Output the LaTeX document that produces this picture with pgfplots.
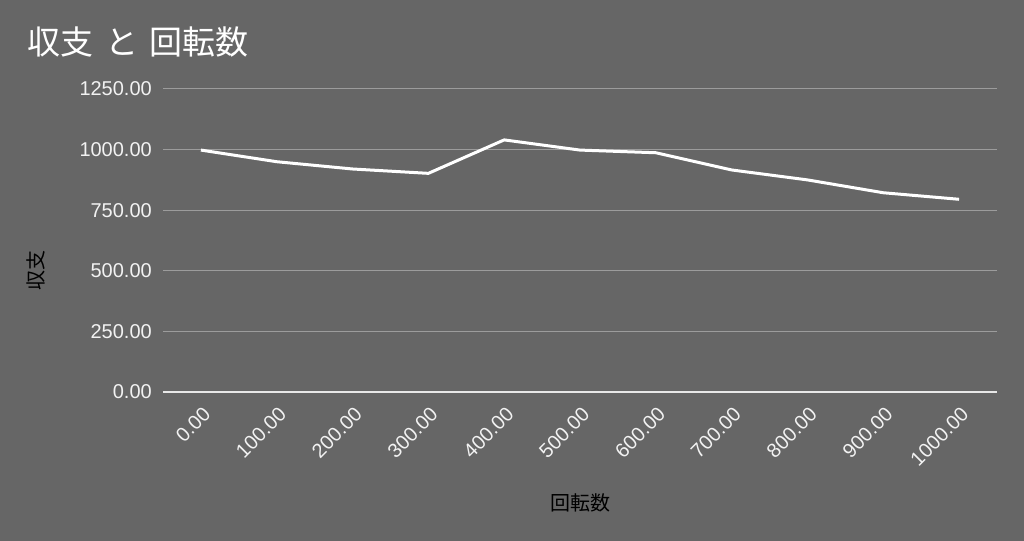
\documentclass[border=0pt]{standalone}
\usepackage{fontspec}
\setmainfont{Liberation Sans}
\newfontfamily\cjk{Noto Sans CJK JP}
\usepackage{pgfplots}
\pgfplotsset{compat=1.18}
\definecolor{bg}{HTML}{666666}
\definecolor{gridc}{HTML}{9C9C9C}
\definecolor{axisc}{HTML}{E8E8E8}
\definecolor{tickc}{HTML}{F2F2F2}
\begin{document}
\begin{tikzpicture}
\fill[bg] (0,0) rectangle (1024bp,541bp);
\begin{axis}[
  at={(163bp,149bp)}, anchor=south west,
  scale only axis, width=834bp, height=303bp,
  xmin=-50, xmax=1050, ymin=0, ymax=1250,
  xtick={0,100,200,300,400,500,600,700,800,900,1000},
  ytick={0,250,500,750,1000,1250},
  ymajorgrids, major grid style={color=gridc, line width=1bp},
  extra y ticks={0}, extra y tick labels={},
  extra y tick style={grid=major, major grid style={color=axisc, line width=1.6bp}},
  axis line style={draw=none},
  major tick length=0pt,
  tick label style={font=\fontsize{20bp}{24bp}\selectfont, text=tickc, inner sep=0pt},
  yticklabel style={anchor=east, xshift=-11bp},
  xticklabel style={xshift=6bp, yshift=-19bp, rotate=45, anchor=east},
  /pgf/number format/fixed, /pgf/number format/fixed zerofill,
  /pgf/number format/precision=2, /pgf/number format/1000 sep={},
  /pgf/number format/assume math mode=true,
  xlabel={\cjk 回転数},
  xlabel style={at={(axis description cs:0.5,-0.3663)}, anchor=center, text=black, font=\fontsize{20bp}{24bp}\selectfont},
  ylabel={\cjk 収支},
  ylabel style={at={(axis description cs:-0.1523,0.401)}, anchor=center, rotate=0, text=black, font=\fontsize{20bp}{24bp}\selectfont},
]
\addplot[white, line width=3bp, line join=round] coordinates {
  (0,998) (100,950) (200,920) (300,902) (400,1040) (500,998)
  (600,987) (700,916) (800,875) (900,822) (1000,795)
};
\end{axis}
\node[anchor=west, inner sep=0pt, text=white, font=\cjk\fontsize{33bp}{39bp}\selectfont] at (27bp,499bp) {収支\hspace{0.36em}と\hspace{0.36em}回転数};
\pgfresetboundingbox
\useasboundingbox (0,0) rectangle (1024bp,541bp);
\end{tikzpicture}
\end{document}
